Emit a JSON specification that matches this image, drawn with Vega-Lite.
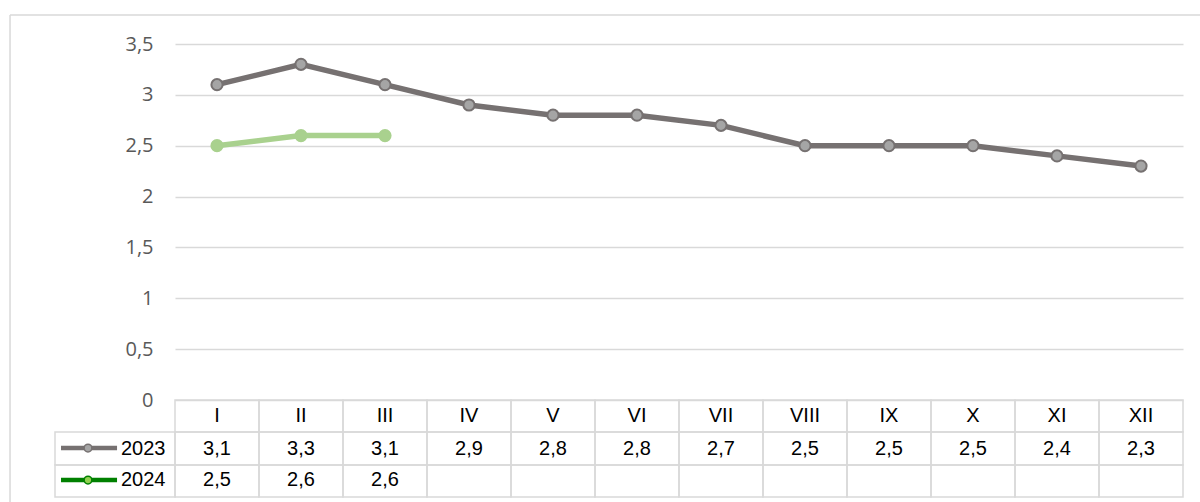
{
  "$schema": "https://vega.github.io/schema/vega-lite/v6.json",
  "autosize": {"type": "none"},
  "padding": {"left": 175, "top": 44, "right": 17, "bottom": 102},
  "width": 1008,
  "height": 356,
  "background": "white",
  "config": {
    "view": {"stroke": null},
    "locale": {"number": {"decimal": ",", "thousands": " ", "grouping": [3], "currency": ["", ""]}}
  },
  "data": {"values": [
    {"month": "I", "n": 1, "year": "2023", "value": 3.1},
    {"month": "II", "n": 2, "year": "2023", "value": 3.3},
    {"month": "III", "n": 3, "year": "2023", "value": 3.1},
    {"month": "IV", "n": 4, "year": "2023", "value": 2.9},
    {"month": "V", "n": 5, "year": "2023", "value": 2.8},
    {"month": "VI", "n": 6, "year": "2023", "value": 2.8},
    {"month": "VII", "n": 7, "year": "2023", "value": 2.7},
    {"month": "VIII", "n": 8, "year": "2023", "value": 2.5},
    {"month": "IX", "n": 9, "year": "2023", "value": 2.5},
    {"month": "X", "n": 10, "year": "2023", "value": 2.5},
    {"month": "XI", "n": 11, "year": "2023", "value": 2.4},
    {"month": "XII", "n": 12, "year": "2023", "value": 2.3},
    {"month": "I", "n": 1, "year": "2024", "value": 2.5},
    {"month": "II", "n": 2, "year": "2024", "value": 2.6},
    {"month": "III", "n": 3, "year": "2024", "value": 2.6}
  ]},
  "layer": [
    {
      "mark": {"type": "line", "strokeWidth": 5.5},
      "encoding": {
        "x": {"field": "n", "type": "quantitative", "scale": {"domain": [0.5, 12.5], "nice": false, "zero": false}, "axis": null},
        "y": {"field": "value", "type": "quantitative", "scale": {"domain": [0, 3.5], "nice": false, "zero": false},
          "axis": {"title": null, "values": [0, 0.5, 1, 1.5, 2, 2.5, 3, 3.5], "format": "~g", "ticks": false, "domain": false,
            "labelPadding": 22, "labelFont": "Open Sans", "labelFontSize": 20, "labelColor": "#595959",
            "gridColor": "#d9d9d9", "gridWidth": 1.5, "labelFontWeight": "normal"}},
        "color": {"field": "year", "type": "nominal", "scale": {"domain": ["2023", "2024"], "range": ["#767171", "#a9d18e"]}, "legend": null}
      }
    },
    {
      "mark": {"type": "point", "shape": "circle", "filled": true, "size": 125, "strokeWidth": 2, "opacity": 1},
      "encoding": {
        "x": {"field": "n", "type": "quantitative"},
        "y": {"field": "value", "type": "quantitative"},
        "fill": {"field": "year", "type": "nominal", "scale": {"domain": ["2023", "2024"], "range": ["#a5a5a5", "#a9d18e"]}, "legend": null},
        "stroke": {"field": "year", "type": "nominal", "scale": {"domain": ["2023", "2024"], "range": ["#767171", "#a9d18e"]}, "legend": null}
      }
    },
    {
      "transform": [{"filter": "datum.year === '2023'"}],
      "mark": {"type": "rect", "width": 84, "fill": null, "stroke": "#d9d9d9", "strokeWidth": 1.5},
      "encoding": {"x": {"field": "n", "type": "quantitative"}, "y": {"datum": 0}, "y2": {"datum": -0.3146}}
    },
    {
      "transform": [{"filter": "datum.year === '2023'"}],
      "mark": {"type": "rect", "width": 84, "fill": null, "stroke": "#d9d9d9", "strokeWidth": 1.5},
      "encoding": {"x": {"field": "n", "type": "quantitative"}, "y": {"datum": -0.3146}, "y2": {"datum": -0.6391}}
    },
    {
      "transform": [{"filter": "datum.year === '2023'"}],
      "mark": {"type": "rect", "width": 84, "fill": null, "stroke": "#d9d9d9", "strokeWidth": 1.5},
      "encoding": {"x": {"field": "n", "type": "quantitative"}, "y": {"datum": -0.6391}, "y2": {"datum": -0.9537}}
    },
    {
      "data": {"values": [{}]},
      "mark": {"type": "rect", "fill": null, "stroke": "#d9d9d9", "strokeWidth": 1.5},
      "encoding": {"x": {"datum": -0.9286}, "x2": {"datum": 0.5}, "y": {"datum": -0.3146}, "y2": {"datum": -0.6391}}
    },
    {
      "data": {"values": [{}]},
      "mark": {"type": "rect", "fill": null, "stroke": "#d9d9d9", "strokeWidth": 1.5},
      "encoding": {"x": {"datum": -0.9286}, "x2": {"datum": 0.5}, "y": {"datum": -0.6391}, "y2": {"datum": -0.9537}}
    },
    {
      "transform": [{"filter": "datum.year === '2023'"}],
      "mark": {"type": "text", "font": "Liberation Sans", "fontSize": 20, "color": "#000000", "align": "center", "baseline": "middle"},
      "encoding": {"x": {"field": "n", "type": "quantitative"}, "y": {"datum": -0.157}, "text": {"field": "month"}}
    },
    {
      "transform": [{"filter": "datum.year === '2023'"}],
      "mark": {"type": "text", "font": "Liberation Sans", "fontSize": 20, "color": "#000000", "align": "center", "baseline": "middle"},
      "encoding": {"x": {"field": "n", "type": "quantitative"}, "y": {"datum": -0.477}, "text": {"field": "value", "type": "quantitative", "format": ".1f"}}
    },
    {
      "transform": [{"filter": "datum.year === '2024'"}],
      "mark": {"type": "text", "font": "Liberation Sans", "fontSize": 20, "color": "#000000", "align": "center", "baseline": "middle"},
      "encoding": {"x": {"field": "n", "type": "quantitative"}, "y": {"datum": -0.79}, "text": {"field": "value", "type": "quantitative", "format": ".1f"}}
    },
    {
      "data": {"values": [{}]},
      "mark": {"type": "rule", "color": "#767171", "strokeWidth": 4.5},
      "encoding": {"x": {"datum": -0.857}, "x2": {"datum": -0.19}, "y": {"datum": -0.472}}
    },
    {
      "data": {"values": [{}]},
      "mark": {"type": "point", "shape": "circle", "filled": true, "size": 60, "fill": "#a5a5a5", "stroke": "#767171", "strokeWidth": 1.5, "opacity": 1},
      "encoding": {"x": {"datum": -0.5357}, "y": {"datum": -0.472}}
    },
    {
      "data": {"values": [{}]},
      "mark": {"type": "rule", "color": "#008000", "strokeWidth": 4.5},
      "encoding": {"x": {"datum": -0.857}, "x2": {"datum": -0.19}, "y": {"datum": -0.787}}
    },
    {
      "data": {"values": [{}]},
      "mark": {"type": "point", "shape": "circle", "filled": true, "size": 60, "fill": "#92d050", "stroke": "#008000", "strokeWidth": 1.5, "opacity": 1},
      "encoding": {"x": {"datum": -0.5357}, "y": {"datum": -0.787}}
    },
    {
      "data": {"values": [{"label": "2023"}]},
      "mark": {"type": "text", "font": "Liberation Sans", "fontSize": 20, "color": "#000000", "align": "left", "baseline": "middle"},
      "encoding": {"x": {"datum": -0.1429}, "y": {"datum": -0.477}, "text": {"field": "label"}}
    },
    {
      "data": {"values": [{"label": "2024"}]},
      "mark": {"type": "text", "font": "Liberation Sans", "fontSize": 20, "color": "#000000", "align": "left", "baseline": "middle"},
      "encoding": {"x": {"datum": -0.1429}, "y": {"datum": -0.79}, "text": {"field": "label"}}
    },
    {
      "data": {"values": [{}]},
      "mark": {"type": "rule", "color": "#d9d9d9", "strokeWidth": 1.5},
      "encoding": {"x": {"datum": -1.464}, "x2": {"datum": 12.9}, "y": {"datum": 3.785}}
    },
    {
      "data": {"values": [{}]},
      "mark": {"type": "rule", "color": "#d9d9d9", "strokeWidth": 1.5},
      "encoding": {"x": {"datum": -1.464}, "y": {"datum": 3.785}, "y2": {"datum": -1.2}}
    }
  ]
}
